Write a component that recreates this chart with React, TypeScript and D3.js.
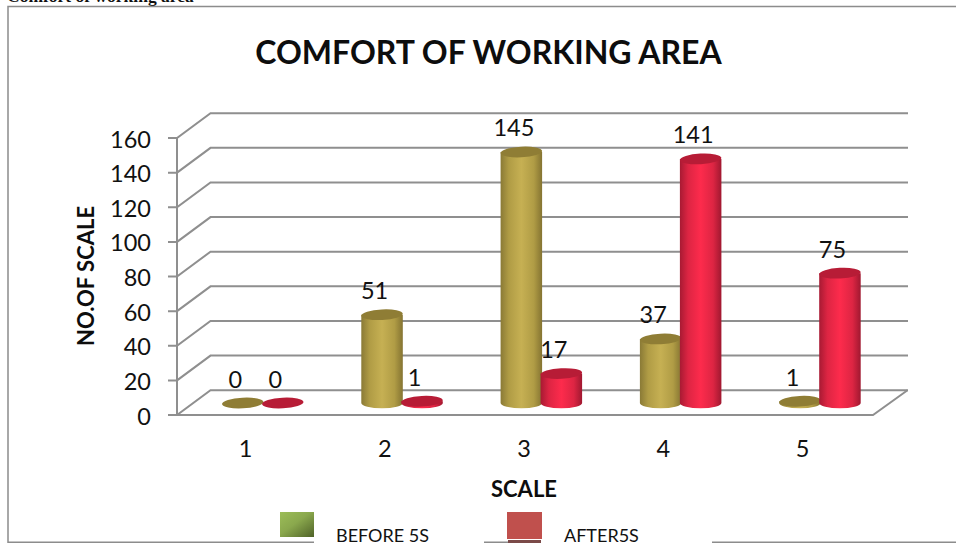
import React from "react";
import * as d3 from "d3";

const categories = ["1", "2", "3", "4", "5"];
const beforeValues = [0, 51, 145, 37, 1];
const afterValues = [0, 1, 17, 141, 75];
const yTicks = [0, 20, 40, 60, 80, 100, 120, 140, 160];
const seriesNames = ["BEFORE 5S", "AFTER5S"];
const titleText = "COMFORT OF WORKING AREA";
const FONT = "Lato, Carlito, Calibri, sans-serif";
const GRID = "#8f8f8f";

const frontX0 = 177;
const frontX1 = 873;
const depthX = 33.5;
const depthY = 24.8;

export default function App() {
  const y = d3.scaleLinear().domain([0, 160]).range([415, 138]);
  const h = d3.scaleLinear().domain([0, 160]).range([0, 277]);
  const x = d3.scaleBand().domain(categories).range([173.5, 870]).paddingInner(0).paddingOuter(0);
  const step = x.step();
  const barW = 41.5;
  const baseY = 403;
  const ry = 5.3;
  const tilt = -3;
  const series = [
    { key: "before", values: beforeValues, offset: 0, top: "#8f7d35" },
    { key: "after", values: afterValues, offset: 40, top: "#b71c36" },
  ];
  const barLeft = (i: number, off: number) => (x(categories[i]) as number) + 48.5 + off;

  const cylinders = series.flatMap((s) =>
    s.values.map((v, i) => {
      const l = barLeft(i, s.offset);
      const cx = l + barW / 2;
      const H = h(v);
      const topY = baseY - H;
      const side = `M${l},${topY}L${l},${baseY}A${barW / 2},${ry} 0 0 0 ${l + barW},${baseY}L${l + barW},${topY}Z`;
      return (
        <g key={s.key + i}>
          {v > 0 && <path d={side} fill={`url(#grad-${s.key})`} />}
          <ellipse cx={cx} cy={topY} rx={barW / 2} ry={ry} fill={s.top} transform={`rotate(${tilt} ${cx} ${topY})`} />
        </g>
      );
    })
  );
  const labels = series.flatMap((s) =>
    s.values.map((v, i) => (
      <text key={s.key + "l" + i} x={barLeft(i, s.offset) + barW / 2 - 7.5} y={baseY - h(v) - 15.5} textAnchor="middle" fontSize={23.5} fill="#111">
        {v}
      </text>
    ))
  );

  return (
    <svg width={956} height={543} viewBox="0 0 956 543" style={{ position: "absolute", left: 0, top: 0, background: "#fff", fontFamily: FONT }}>
      <defs>
        <linearGradient id="grad-before" x1="0" x2="1" y1="0" y2="0">
          <stop offset="0" stopColor="#8a7a36" />
          <stop offset="0.2" stopColor="#b09c45" />
          <stop offset="0.5" stopColor="#c6b053" />
          <stop offset="0.8" stopColor="#b09c45" />
          <stop offset="1" stopColor="#857432" />
        </linearGradient>
        <linearGradient id="grad-after" x1="0" x2="1" y1="0" y2="0">
          <stop offset="0" stopColor="#a81a33" />
          <stop offset="0.2" stopColor="#dd2543" />
          <stop offset="0.5" stopColor="#fd2b4c" />
          <stop offset="0.8" stopColor="#dd2543" />
          <stop offset="1" stopColor="#a01830" />
        </linearGradient>
        <linearGradient id="grad-legend" x1="0" x2="1" y1="0" y2="1">
          <stop offset="0" stopColor="#9cbd58" />
          <stop offset="0.45" stopColor="#8aa84d" />
          <stop offset="1" stopColor="#4f6228" />
        </linearGradient>
      </defs>

      <text x={7} y={1.5} fontFamily="'Liberation Serif', serif" fontWeight="bold" fontSize={17.5} fill="#111">
        Comfort of working area
      </text>

      {/* frame */}
      <g stroke="#8c8c8c" strokeWidth={1.5} fill="none">
        <path d="M8,543V6.5H956" />
        <path d="M8,542.2H314M484,542.2H541M712,542.2H956" />
      </g>

      <text x={488.5} y={64} textAnchor="middle" fontSize={32} fontWeight="bold" fill="#0d0d0d">
        {titleText}
      </text>

      {/* 3D walls */}
      <g stroke={GRID} strokeWidth={2} fill="none">
        {yTicks.map((t) => (
          <path key={t} d={`M${frontX0 - 9},${y(t)}H${frontX0}L${frontX0 + depthX},${y(t) - depthY}H908`} />
        ))}
        <path d={`M${frontX0},${y(160)}V${y(0)}H${frontX1}L${frontX1 + depthX + 1},${y(0) - depthY}`} />
      </g>

      {yTicks.map((t) => (
        <text key={t} x={151} y={y(t) + 9.5} textAnchor="end" fontSize={23.5} fill="#111">
          {t}
        </text>
      ))}

      <text transform="translate(94,276) rotate(-90)" textAnchor="middle" fontSize={22} fontWeight="bold" fill="#0d0d0d">
        NO.OF SCALE
      </text>

      {cylinders}
      {labels}

      {categories.map((c) => (
        <text key={c} x={(x(c) as number) + step / 2 + 2.3} y={457} textAnchor="middle" fontSize={23.5} fill="#111">
          {c}
        </text>
      ))}

      <text x={524} y={497} textAnchor="middle" fontSize={22} fontWeight="bold" fill="#0d0d0d">
        SCALE
      </text>

      <rect x={280} y={512} width={34} height={25} fill="url(#grad-legend)" />
      <rect x={507} y={512} width={35} height={27} fill="#c0504d" />
      <rect x={508} y={540} width={33} height={3} fill="#7b4a48" />
      <text x={336} y={542} fontSize={18} fill="#111">
        {seriesNames[0]}
      </text>
      <text x={564} y={542} fontSize={18} fill="#111">
        {seriesNames[1]}
      </text>
    </svg>
  );
}
